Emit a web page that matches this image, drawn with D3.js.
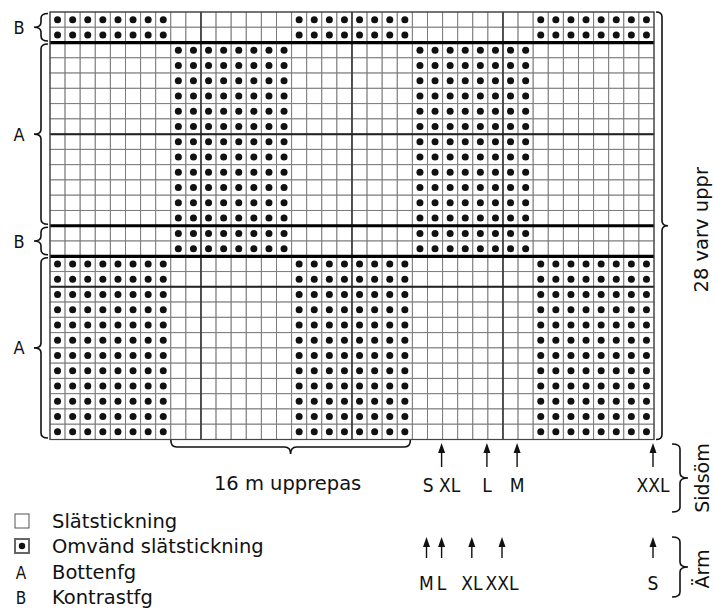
<!DOCTYPE html>
<html>
<head>
<meta charset="utf-8">
<script src="https://cdn.jsdelivr.net/npm/d3@7"></script>
<style>
  body { margin: 0; background: #fff; }
  svg { display: block; }
  text { font-family: "DejaVu Sans", sans-serif; fill: #111; }
  .cond { font-family: "DejaVu Sans Condensed", "DejaVu Sans", sans-serif; font-stretch: condensed; }
</style>
</head>
<body>
<svg id="chart" width="714" height="610"></svg>
<script>
// chart data
var nCols = 40;
var sectionLabels = ["B", "A", "B", "A"];
var sectionRows = [2, 12, 2, 12];
var sectionDotBlocks = [[0, 16, 32], [8, 24], [8, 24], [0, 16, 32]];
var blockWidth = 8;
var repeatCols = [8, 24];
var repeatLabel = "16 m upprepas";
var sidsomLabels = ["S XL", "L", "M", "XXL"];
var sidsomCols = [26, 29, 31, 40];
var armLabels = ["M", "L", "XL", "XXL", "S"];
var armCols = [25, 26, 28, 30, 40];
var legendLabels = ["Slätstickning", "Omvänd slätstickning", "Bottenfg", "Kontrastfg"];
var legendKeys = ["empty", "dot", "A", "B"];
var rowsTitle = "28 varv uppr";

var nRows = d3.sum(sectionRows);
var chart = d3.select("#chart");

var x = d3.scaleLinear().domain([0, nCols]).range([50, 654]);
var y = d3.scaleLinear().domain([0, nRows]).range([12, 439.5]);
var cw = x(1) - x(0), ch = y(1) - y(0);

// section start rows
var sectionStart = [];
var acc = 0;
for (var i = 0; i < sectionRows.length; i++) {
    sectionStart.push(acc);
    acc += sectionRows[i];
}

// cells
var cells = [];
for (var s = 0; s < sectionRows.length; s++) {
    for (var r = 0; r < sectionRows[s]; r++) {
        for (var c = 0; c < nCols; c++) {
            var dot = sectionDotBlocks[s].some(function(b){ return c >= b && c < b + blockWidth; });
            cells.push({row: sectionStart[s] + r, col: c, dot: dot});
        }
    }
}

var grid = chart.append("g");

grid.selectAll("rect.cell")
    .data(cells)
    .enter().append("rect")
    .attr("class", "cell")
    .attr("x", function(d){ return x(d.col); })
    .attr("y", function(d){ return y(d.row); })
    .attr("width", cw)
    .attr("height", ch)
    .attr("fill", "#fff")
    .attr("stroke", "#7c7c7c")
    .attr("stroke-width", 1);

grid.selectAll("circle.dot")
    .data(cells.filter(function(d){ return d.dot; }))
    .enter().append("circle")
    .attr("class", "dot")
    .attr("cx", function(d){ return x(d.col + 0.5); })
    .attr("cy", function(d){ return y(d.row + 0.5); })
    .attr("r", 3.5)
    .attr("fill", "#111");

// every 10 stitches / rows counted from bottom right
[10, 20, 30].forEach(function(c){
    grid.append("line")
        .attr("x1", x(c)).attr("x2", x(c))
        .attr("y1", y(0)).attr("y2", y(nRows))
        .attr("stroke", "#333").attr("stroke-width", 1.5);
});
[nRows - 10, nRows - 20].forEach(function(r){
    grid.append("line")
        .attr("x1", x(0)).attr("x2", x(nCols))
        .attr("y1", y(r)).attr("y2", y(r))
        .attr("stroke", "#222").attr("stroke-width", 2);
});

// thick lines at colour changes
sectionStart.slice(1).forEach(function(r){
    grid.append("line")
        .attr("x1", x(0)).attr("x2", x(nCols))
        .attr("y1", y(r)).attr("y2", y(r))
        .attr("stroke", "#000").attr("stroke-width", 3.2);
});

grid.append("rect")
    .attr("x", x(0)).attr("y", y(0))
    .attr("width", x(nCols) - x(0)).attr("height", y(nRows) - y(0))
    .attr("fill", "none").attr("stroke", "#444").attr("stroke-width", 1.2);

// braces
function braceV(x0, y1, y2, dir, d) {
    var xm = x0 + dir * d / 2, xp = x0 + dir * d, ym = (y1 + y2) / 2, r = Math.min(5, (y2 - y1) / 4);
    return "M" + x0 + "," + y1 + " Q" + xm + "," + y1 + " " + xm + "," + (y1 + r) +
        " L" + xm + "," + (ym - r) + " Q" + xm + "," + ym + " " + xp + "," + ym +
        " Q" + xm + "," + ym + " " + xm + "," + (ym + r) +
        " L" + xm + "," + (y2 - r) + " Q" + xm + "," + y2 + " " + x0 + "," + y2;
}
function braceH(x1, x2, y0, d) {
    var yh = y0 + d / 2, yp = y0 + d, xm = (x1 + x2) / 2, r = 6;
    return "M" + x1 + "," + y0 + " Q" + x1 + "," + yh + " " + (x1 + r) + "," + yh +
        " L" + (xm - r) + "," + yh + " Q" + xm + "," + yh + " " + xm + "," + yp +
        " Q" + xm + "," + yh + " " + (xm + r) + "," + yh +
        " L" + (x2 - r) + "," + yh + " Q" + x2 + "," + yh + " " + x2 + "," + y0;
}
function brace(p) {
    chart.append("path").attr("d", p)
        .attr("fill", "none").attr("stroke", "#111").attr("stroke-width", 1.6);
}

for (var s = 0; s < sectionRows.length; s++) {
    var y1 = y(sectionStart[s]) + 1.5, y2 = y(sectionStart[s] + sectionRows[s]) - 1.5;
    brace(braceV(48, y1, y2, -1, 14));
    chart.append("text")
        .attr("class", "cond")
        .attr("x", 19)
        .attr("y", (y1 + y2) / 2 + 6.5)
        .attr("text-anchor", "middle")
        .attr("font-size", 18)
        .text(sectionLabels[s]);
}

// whole height
brace(braceV(656, y(0), y(nRows), 1, 12));
chart.append("text")
    .attr("transform", "translate(708," + ((y(0) + y(nRows)) / 2 + 4) + ") rotate(-90)")
    .attr("text-anchor", "middle")
    .attr("font-size", 19.5)
    .text(rowsTitle);

// pattern repeat
brace(braceH(x(repeatCols[0]), x(repeatCols[1]) - 2, 440, 14));
chart.append("text")
    .attr("x", (x(repeatCols[0]) + x(repeatCols[1])) / 2 - 4)
    .attr("y", 490)
    .attr("text-anchor", "middle")
    .attr("font-size", 19.5)
    .text(repeatLabel);

// arrows
function arrows(cols, labels, tipY, botY, labY) {
    cols.forEach(function(c, i){
        var ax = x(c) - 1;
        chart.append("line")
            .attr("x1", ax).attr("x2", ax)
            .attr("y1", tipY + 6).attr("y2", botY)
            .attr("stroke", "#111").attr("stroke-width", 1.4);
        chart.append("path")
            .attr("d", "M" + ax + "," + tipY + " L" + (ax - 3.5) + "," + (tipY + 10) + " L" + (ax + 3.5) + "," + (tipY + 10) + " Z")
            .attr("fill", "#111");
        chart.append("text")
            .attr("class", "cond")
            .attr("x", ax)
            .attr("y", labY)
            .attr("text-anchor", "middle")
            .attr("font-size", 19)
            .text(labels[i]);
    });
}
arrows(sidsomCols, sidsomLabels, 443, 467, 492);
arrows(armCols, armLabels, 537, 558, 590);

brace(braceV(672, 444, 512, 1, 16));
brace(braceV(672, 537, 597, 1, 16));
chart.append("text")
    .attr("transform", "translate(709,478) rotate(-90)")
    .attr("text-anchor", "middle")
    .attr("font-size", 19)
    .text("Sidsöm");
chart.append("text")
    .attr("transform", "translate(709,569) rotate(-90)")
    .attr("text-anchor", "middle")
    .attr("font-size", 19)
    .text("Ärm");

// legend
var legendY = [528, 553, 579, 604];
legendKeys.forEach(function(k, i){
    var ly = legendY[i];
    if (k === "empty" || k === "dot") {
        chart.append("rect")
            .attr("x", 15).attr("y", ly - 14)
            .attr("width", 14).attr("height", 14)
            .attr("fill", "#fff")
            .attr("stroke", k === "dot" ? "#666" : "#555")
            .attr("stroke-width", k === "dot" ? 2 : 1);
        if (k === "dot") {
            chart.append("circle")
                .attr("cx", 22).attr("cy", ly - 7).attr("r", 3.2).attr("fill", "#111");
        }
    } else {
        chart.append("text")
            .attr("class", "cond")
            .attr("x", 21).attr("y", ly)
            .attr("text-anchor", "middle")
            .attr("font-size", 17)
            .text(k);
    }
    chart.append("text")
        .attr("x", 52).attr("y", ly)
        .attr("font-size", 19.5)
        .text(legendLabels[i]);
});
</script>
</body>
</html>
